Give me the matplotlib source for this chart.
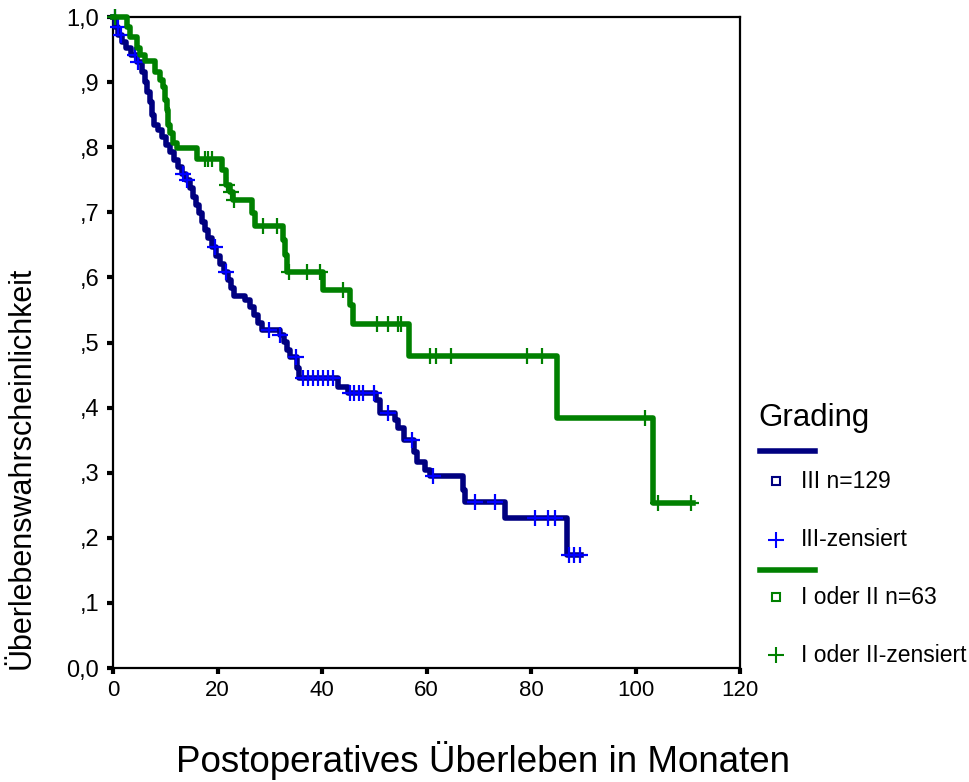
import numpy as np
import matplotlib
matplotlib.use("Agg")
import matplotlib.pyplot as plt
from matplotlib.lines import Line2D

plt.rcParams["font.family"] = ["Liberation Sans", "DejaVu Sans"]

# Grading III (n=129): Zeitpunkte der Stufen und Überleben danach
blue_t = [0, 0.4, 1.0, 1.7, 2.5, 3.4, 4.6, 5.5, 6.1, 6.5, 7.1, 7.5, 7.8, 8.6, 9.4,
          10.1, 10.9, 11.7, 12.4, 13.2, 14.0, 14.7, 15.3, 15.9, 16.5, 17.0, 17.6,
          18.2, 18.9, 19.7, 20.5, 21.2, 22.0, 22.6, 23.2, 25.3, 26.2, 27.0, 27.8,
          28.5, 32.0, 32.7, 33.3, 33.9, 35.2, 35.6, 43.1, 45.0, 50.3, 51.1, 54.0,
          54.5, 55.7, 57.6, 58.2, 59.7, 60.7, 67.0, 67.4, 75.0, 86.9]
blue_s = [1.0, 0.985, 0.972, 0.962, 0.952, 0.942, 0.931, 0.915, 0.900, 0.885,
          0.869, 0.850, 0.834, 0.826, 0.816, 0.803, 0.793, 0.780, 0.770, 0.759,
          0.750, 0.737, 0.723, 0.711, 0.699, 0.685, 0.673, 0.661, 0.647, 0.633,
          0.621, 0.608, 0.596, 0.584, 0.571, 0.565, 0.555, 0.542, 0.530, 0.519,
          0.511, 0.501, 0.488, 0.478, 0.461, 0.445, 0.432, 0.422, 0.412, 0.392,
          0.381, 0.369, 0.350, 0.332, 0.316, 0.304, 0.295, 0.273, 0.255, 0.230,
          0.174]
blue_end = 89.5
blue_cens = [0.3, 0.9, 1.6, 4.2, 4.8, 13.4, 14.2, 19.5, 21.6, 29.8, 32.0, 35.0,
             36.4, 37.3, 38.3, 39.2, 40.2, 41.2, 42.1, 45.4, 46.2, 47.0, 47.8,
             50.0, 52.6, 57.2, 61.2, 69.3, 73.1, 80.8, 83.3, 84.6, 87.2, 88.2, 89.3]

# Grading I oder II (n=63)
green_t = [0, 2.7, 3.3, 4.6, 5.2, 6.1, 8.0, 9.0, 9.6, 10.0, 10.3, 10.5, 10.9,
           11.5, 12.2, 16.1, 20.9, 21.6, 22.4, 23.0, 26.6, 27.2, 32.5, 32.9,
           33.3, 40.2, 45.4, 45.9, 56.6, 85.0, 103.3]
green_s = [1.0, 0.984, 0.969, 0.952, 0.942, 0.932, 0.916, 0.903, 0.892, 0.872,
           0.857, 0.834, 0.822, 0.806, 0.799, 0.782, 0.765, 0.742, 0.731, 0.719,
           0.699, 0.679, 0.657, 0.634, 0.608, 0.581, 0.558, 0.528, 0.479, 0.384,
           0.253]
green_end = 111.0
green_cens = [0.4, 17.6, 18.1, 19.0, 21.8, 22.5, 23.1, 28.7, 31.4, 33.7, 37.1,
              39.6, 44.0, 50.5, 52.6, 54.5, 55.1, 60.7, 61.8, 64.7, 79.2, 82.1,
              101.8, 104.3, 110.6]

x_ticks = [0, 20, 40, 60, 80, 100, 120]
y_ticks = [0.0, 0.1, 0.2, 0.3, 0.4, 0.5, 0.6, 0.7, 0.8, 0.9, 1.0]
y_labels = ["0,0", ",1", ",2", ",3", ",4", ",5", ",6", ",7", ",8", ",9", "1,0"]

NAVY = "#000080"
BLUE = "#0000ff"
GREEN = "#008000"


def surv_at(t_steps, s_steps, times):
    idx = np.searchsorted(t_steps, times, side="right") - 1
    return np.array(s_steps)[idx]


fig = plt.figure(figsize=(9.7, 7.82), dpi=100)
ax = fig.add_axes([113 / 970, 1 - 668 / 782, 627 / 970, 651 / 782])

ax.step(blue_t + [blue_end], blue_s + [blue_s[-1]], where="post",
        color=NAVY, lw=4, clip_on=False, zorder=3)
ax.plot(blue_cens, surv_at(blue_t, blue_s, blue_cens), ls="none", marker="+",
        ms=11, mew=1.6, color=BLUE, clip_on=False, zorder=4)

ax.step(green_t + [green_end], green_s + [green_s[-1]], where="post",
        color=GREEN, lw=4, clip_on=False, zorder=5)
ax.plot(green_cens, surv_at(green_t, green_s, green_cens), ls="none", marker="+",
        ms=11, mew=1.6, color=GREEN, clip_on=False, zorder=6)

ax.set_xlim(0, 120)
ax.set_ylim(0, 1.0)
ax.set_xticks(x_ticks)
ax.set_yticks(y_ticks)
ax.set_yticklabels(y_labels)
ax.tick_params(axis="y", labelsize=17, length=4, width=3, color="black", pad=6)
ax.tick_params(axis="x", labelsize=16, length=4, width=3, color="black", pad=5)
for sp in ax.spines.values():
    sp.set_linewidth(1.6)

fig.text(22 / 970, 1 - 468 / 782, "Überlebenswahrscheinlichkeit", rotation=90,
         ha="center", va="center", fontsize=22)
fig.text(483 / 970, 1 - 772 / 782, "Postoperatives Überleben in Monaten",
         ha="center", va="baseline", fontsize=26.5)

# Legende rechts neben dem Diagramm
def fx(x):
    return x / 970


def fy(y):
    return 1 - y / 782


fig.text(fx(758), fy(418), "Grading", ha="left", va="center", fontsize=22.5)
legend_rows = [
    (451, 481, 540, NAVY, BLUE, "III n=129", "III-zensiert"),
    (570, 597, 655, GREEN, GREEN, "I oder II n=63", "I oder II-zensiert"),
]
for ly, sy, cy, lc, cc, t1, t2 in legend_rows:
    fig.add_artist(Line2D([fx(760), fx(815)], [fy(ly), fy(ly)], color=lc, lw=4,
                          transform=fig.transFigure))
    fig.add_artist(Line2D([fx(776)], [fy(sy)], marker="s", ms=6, mfc="none",
                          mec=lc, mew=1.5, ls="none", transform=fig.transFigure))
    fig.add_artist(Line2D([fx(776)], [fy(cy)], marker="+", ms=12, mew=1.5,
                          color=cc, ls="none", transform=fig.transFigure))
    fig.text(fx(801), fy(sy), t1, ha="left", va="center", fontsize=16.5)
    fig.text(fx(801), fy(cy), t2, ha="left", va="center", fontsize=16.5)

fig.savefig("out.png", dpi=100)
